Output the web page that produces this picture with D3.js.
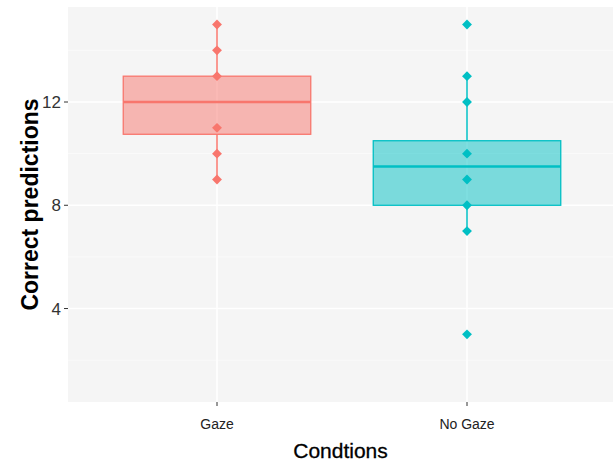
<!DOCTYPE html>
<html>
<head>
<meta charset="utf-8">
<script src="https://cdn.jsdelivr.net/npm/d3@7"></script>
<style>
  body { margin: 0; background: #fff; }
  text { font-family: "Liberation Sans", Arial, sans-serif; }
</style>
</head>
<body>
<svg id="chart" width="613" height="464"></svg>
<script>
// categories and the box summaries
let conditions = ["Gaze", "No Gaze"]
let colors = ["#F8766D", "#00BFC4"]
let lower = [9, 7]
let q1 = [10.75, 8]
let median = [12, 9.5]
let q3 = [13, 10.5]
let upper = [15, 13]
let gazePoints = [9, 10, 11, 13, 14, 15]
let noGazePoints = [3, 7, 8, 9, 10, 12, 13, 15]
let points = [gazePoints, noGazePoints]
let yTicks = [4, 8, 12]
let yMinor = [2, 6, 10, 14]

let svg = d3.select("#chart")
let margin = {left: 68, top: 7, right: 0, bottom: 62}
let W = 613, H = 464

// category centres sit 0.6 units in from the panel edge (ggplot expansion)
let x = d3.scalePoint()
    .domain(conditions)
    .range([margin.left + 149, margin.left + 399])

let y = d3.scaleLinear()
    .domain([0.38, 15.68])
    .range([H - margin.bottom, margin.top])

// panel
svg.append("rect")
    .attr("x", margin.left).attr("y", margin.top)
    .attr("width", W - margin.left).attr("height", H - margin.bottom - margin.top)
    .attr("fill", "#f5f5f5")

svg.selectAll(".minor").data(yMinor).enter().append("line")
    .attr("x1", margin.left).attr("x2", W)
    .attr("y1", d => y(d)).attr("y2", d => y(d))
    .attr("stroke", "#fbfbfb").attr("stroke-width", 0.8)

svg.selectAll(".major").data(yTicks).enter().append("line")
    .attr("x1", margin.left).attr("x2", W)
    .attr("y1", d => y(d)).attr("y2", d => y(d))
    .attr("stroke", "#fff").attr("stroke-width", 1.5)

svg.selectAll(".vmajor").data(conditions).enter().append("line")
    .attr("x1", d => x(d)).attr("x2", d => x(d))
    .attr("y1", margin.top).attr("y2", H - margin.bottom)
    .attr("stroke", "#fff").attr("stroke-width", 1.5)

let boxW = 0.75 * x.step()

let g = svg.selectAll(".box").data(conditions).enter().append("g")

// whiskers
g.append("line")
    .attr("x1", d => x(d)).attr("x2", d => x(d))
    .attr("y1", (d, i) => y(upper[i])).attr("y2", (d, i) => y(q3[i]))
    .attr("stroke", (d, i) => colors[i]).attr("stroke-width", 1.5)
g.append("line")
    .attr("x1", d => x(d)).attr("x2", d => x(d))
    .attr("y1", (d, i) => y(q1[i])).attr("y2", (d, i) => y(lower[i]))
    .attr("stroke", (d, i) => colors[i]).attr("stroke-width", 1.5)

g.append("rect")
    .attr("x", d => x(d) - boxW / 2).attr("width", boxW)
    .attr("y", (d, i) => y(q3[i]))
    .attr("height", (d, i) => y(q1[i]) - y(q3[i]))
    .attr("fill", (d, i) => colors[i]).attr("fill-opacity", 0.5)
    .attr("stroke", (d, i) => colors[i]).attr("stroke-width", 1.3)

g.append("line")
    .attr("x1", d => x(d) - boxW / 2).attr("x2", d => x(d) + boxW / 2)
    .attr("y1", (d, i) => y(median[i])).attr("y2", (d, i) => y(median[i]))
    .attr("stroke", (d, i) => colors[i]).attr("stroke-width", 2.6)

let diamond = d3.symbol().type(d3.symbolDiamond2).size(62)

g.each(function(d, i){
    d3.select(this).selectAll("path").data(points[i]).enter().append("path")
        .attr("d", diamond)
        .attr("transform", v => `translate(${x(d)},${y(v)})`)
        .attr("fill", colors[i])
})

// axes
svg.selectAll(".ytick").data(yTicks).enter().append("line")
    .attr("x1", margin.left - 4).attr("x2", margin.left)
    .attr("y1", d => y(d)).attr("y2", d => y(d))
    .attr("stroke", "#333").attr("stroke-width", 1)
svg.selectAll(".ylab").data(yTicks).enter().append("text")
    .attr("x", margin.left - 7).attr("y", d => y(d))
    .attr("dy", "0.36em").attr("text-anchor", "end")
    .attr("font-size", 17).attr("fill", "#333")
    .text(d => d)

svg.selectAll(".xtick").data(conditions).enter().append("line")
    .attr("x1", d => x(d)).attr("x2", d => x(d))
    .attr("y1", H - margin.bottom).attr("y2", H - margin.bottom + 4)
    .attr("stroke", "#333").attr("stroke-width", 1)
svg.selectAll(".xlab").data(conditions).enter().append("text")
    .attr("x", d => x(d)).attr("y", H - margin.bottom + 27)
    .attr("text-anchor", "middle")
    .attr("font-size", 14).attr("fill", "#222")
    .text(d => d)

svg.append("text")
    .attr("x", (margin.left + W) / 2).attr("y", 458)
    .attr("text-anchor", "middle")
    .attr("font-size", 21).attr("fill", "#000")
    .attr("stroke", "#000").attr("stroke-width", 0.3)
    .text("Condtions")

svg.append("text")
    .attr("transform", `translate(38,${(margin.top + H - margin.bottom) / 2}) rotate(-90)`)
    .attr("text-anchor", "middle")
    .attr("font-size", 23).attr("font-weight", "bold").attr("fill", "#000")
    .text("Correct predictions")
</script>
</body>
</html>
